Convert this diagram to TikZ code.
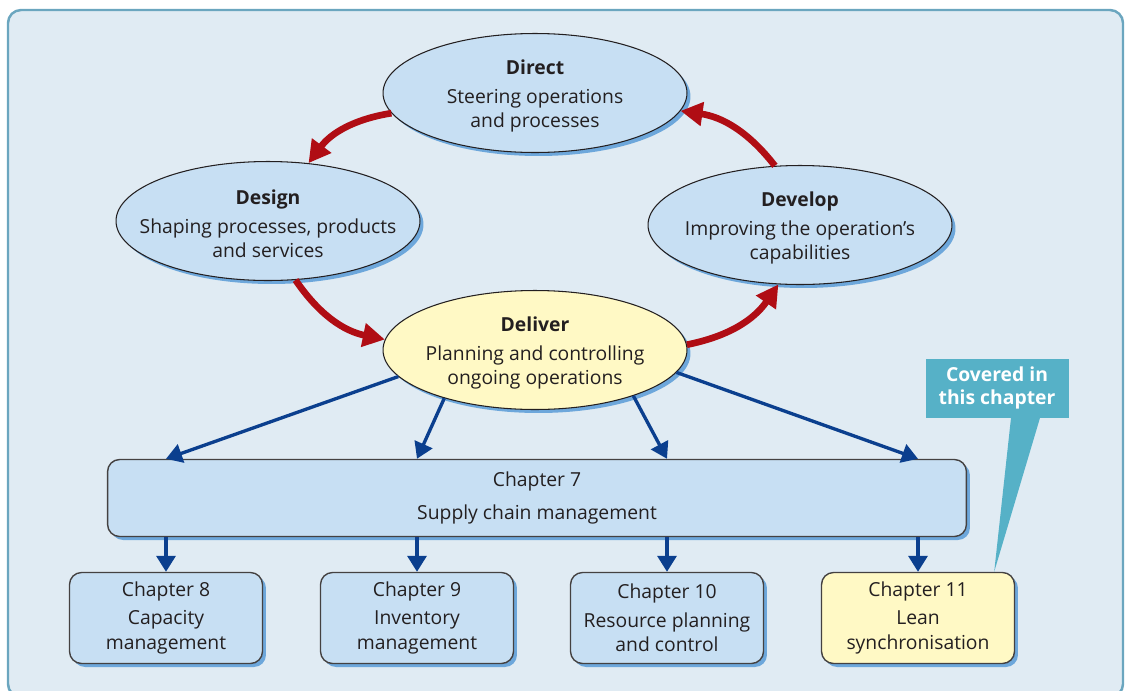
\documentclass[tikz,border=0pt]{standalone}
\usepackage{fontspec}
\setmainfont{Open Sans}
\usetikzlibrary{arrows.meta,shapes.geometric,shadows,calc}
\definecolor{panel}{HTML}{E0EBF3}
\definecolor{panelline}{HTML}{6BA6BF}
\definecolor{paleblue}{HTML}{C7DFF3}
\definecolor{shade}{HTML}{6DA7DB}
\definecolor{paleyellow}{HTML}{FFF9C5}
\definecolor{darkred}{HTML}{B00D14}
\definecolor{navy}{HTML}{0B3F8E}
\definecolor{callout}{HTML}{56B1C7}
\definecolor{ink}{HTML}{231F20}
\tikzset{
  every picture/.style={line join=round},
  stage/.style={ellipse, draw=ink, line width=0.6pt, fill=paleblue,
    minimum width=6.08cm, minimum height=2.38cm,
    drop shadow={shadow xshift=0.07cm, shadow yshift=-0.07cm, fill=shade, opacity=1}},
  stagetext/.style={align=center, text=ink, inner sep=0pt, yshift=-0.06cm},
  chapter/.style={rectangle, rounded corners=0.24cm, draw=ink!85, line width=0.8pt,
    fill=paleblue, align=center, text=ink, minimum width=3.86cm, minimum height=1.82cm,
    font=\fontsize{11}{14}\selectfont,
    drop shadow={shadow xshift=0.07cm, shadow yshift=-0.07cm, fill=shade, opacity=1}},
  cycle/.style={draw=darkred, line width=3.8pt, -{Triangle[length=0.44cm,width=0.46cm]}},
  feed/.style={draw=navy, line width=1.9pt, -{Triangle[length=0.32cm,width=0.38cm]}},
}
\begin{document}
\begin{tikzpicture}[x=0.02cm, y=-0.02cm, font=\fontsize{11}{13.6}\selectfont]
\useasboundingbox (0,0) rectangle (1125,690);
\draw[panelline, fill=panel, line width=1.4pt, rounded corners=0.26cm] (8,10) rectangle (1123,697);

% the four stages
\node[stage] (direct) at (535,93) {};
\node[stagetext] (directtxt) at (direct) {\textbf{Direct}\\[3pt]Steering operations\\and processes};
\node[stage] (design) at (268,221) {};
\node[stagetext] (designtxt) at (design) {\textbf{Design}\\[3pt]Shaping processes, products\\and services};
\node[stage] (develop) at (800,225) {};
\node[stagetext] (developtxt) at (develop) {\textbf{Develop}\\[3pt]Improving the operation's\\capabilities};
\node[stage, fill=paleyellow] (deliver) at (535,350) {};
\node[stagetext] (delivertxt) at (deliver) {\textbf{Deliver}\\[3pt]Planning and controlling\\ongoing operations};

\draw[cycle] (direct.188) to[bend right=22] (design.55);
\draw[cycle] (design.295) to[bend right=22] (deliver.176);
\draw[cycle] (deliver.2) to[bend right=22] (develop.250);
\draw[cycle] (develop.113) to[bend right=22] (direct.353);

% chapters
\node[chapter, minimum width=17.18cm, minimum height=1.54cm] (ch7) at (537,498) {Chapter 7\\[5pt]Supply chain management};
\node[chapter] (ch8) at (166,618) {Chapter 8\\[2pt]Capacity\\management};
\node[chapter] (ch9) at (417,618) {Chapter 9\\[2pt]Inventory\\management};
\node[chapter] (ch10) at (667,618) {Chapter 10\\[2pt]Resource planning\\and control};
\node[chapter, fill=paleyellow] (ch11) at (918,618) {Chapter 11\\[2pt]Lean\\synchronisation};

\draw[feed] (deliver.191) -- (ch7.north -| ch8.north);
\draw[feed] (deliver.208) -- (ch7.north -| ch9.north);
\draw[feed] (deliver.335) -- (ch7.north -| ch10.north);
\draw[feed] (deliver.351) -- (ch7.north -| ch11.north);
\foreach \c in {ch8,ch9,ch10,ch11}
  \draw[feed] (ch7.south -| \c.north) -- (\c.north);

\node[fill=callout, text=white, font=\fontsize{11}{13.6}\selectfont\bfseries, align=center,
  minimum width=2.86cm, minimum height=1.18cm] (covered) at (997,388) {Covered in\\this chapter};
\fill[callout] ($(covered.south)+(14,0)$) -- ($(ch11.north east)+(-21,0)$) -- ($(covered.south)+(43,0)$) -- cycle;
\end{tikzpicture}
\end{document}
